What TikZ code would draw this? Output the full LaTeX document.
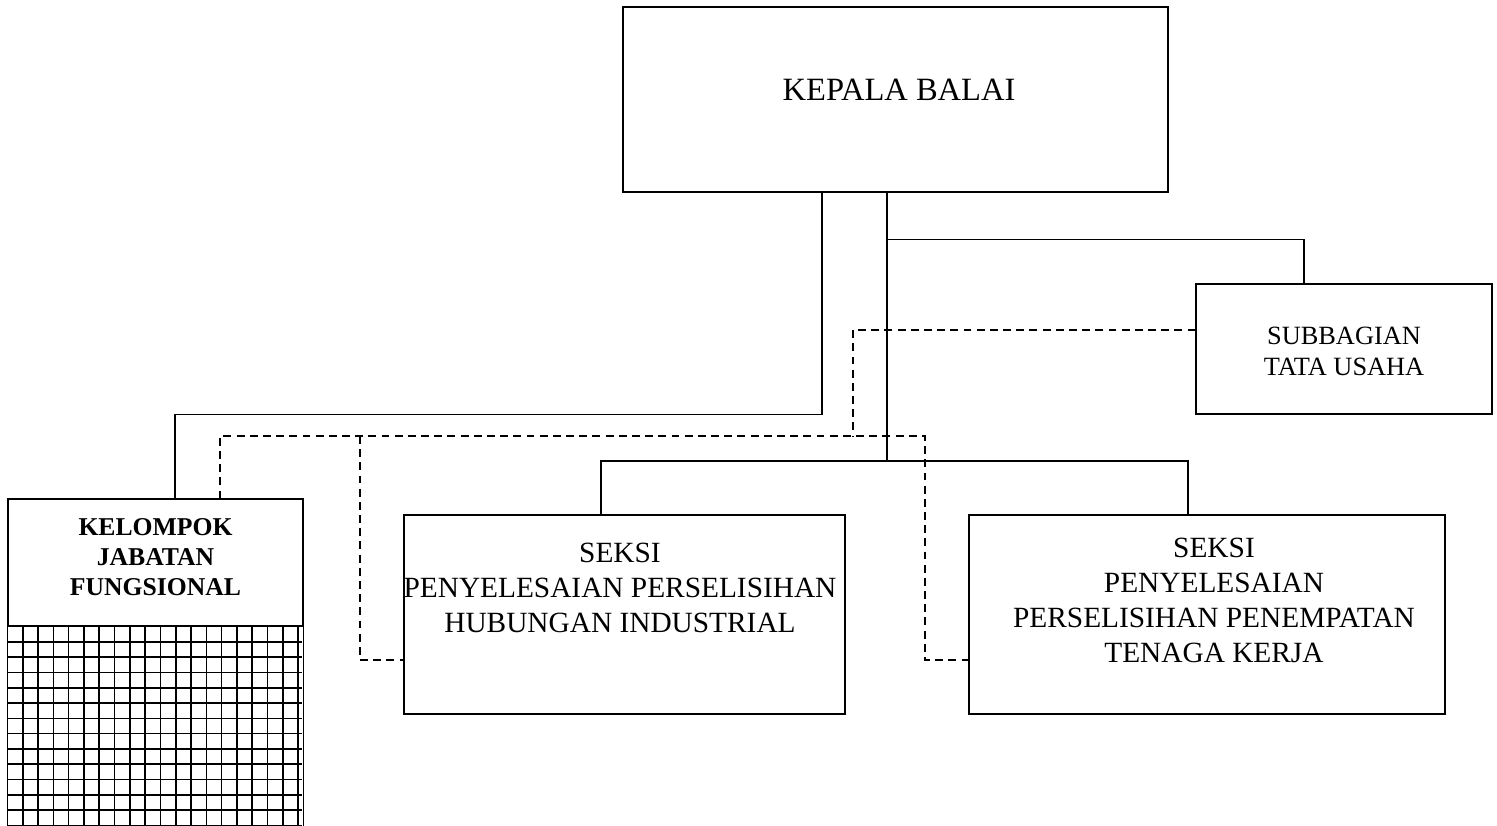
\documentclass[tikz,border=0pt]{standalone}
\usepackage{fontspec}
\setmainfont{Liberation Serif}
\usepackage{tikz}

\begin{document}
\begin{tikzpicture}[-
  ,line width=0.8pt
  ,semithick]
  \tikzstyle{unit}=[draw, rectangle, inner sep=0pt]
  \tikzstyle{caption}=[align=center, inner sep=0pt,
  font=\fontsize{16.7}{20}\selectfont]
  \tikzstyle{link}=[dash pattern=on 4.5pt off 3pt]

  \useasboundingbox (0,0) rectangle (29.94,-16.5);

  % boxes
  \node[unit, minimum width=10.9cm, minimum height=3.7cm] (kepala) at (17.91,-1.99) {};
  \node[unit, minimum width=5.92cm, minimum height=2.6cm] (subbag) at (26.88,-6.98) {};
  \node[unit, minimum width=8.82cm, minimum height=3.98cm] (phi) at (12.49,-12.29) {};
  \node[unit, minimum width=9.52cm, minimum height=3.98cm] (pptk) at (24.14,-12.29) {};
  \node[unit, minimum width=5.9cm, minimum height=2.54cm] (kjf) at (3.11,-11.25) {};

  % texts
  \node[caption, font=\fontsize{18.5}{20}\selectfont] (kepala-t) at ([xshift=0.07cm,yshift=0.19cm]kepala.center) {KEPALA BALAI};
  \node[caption, font=\fontsize{15}{17.6}\selectfont] (subbag-t) at ([yshift=-0.04cm]subbag.center)
  {SUBBAGIAN\\TATA USAHA};
  \node[caption] (phi-t) at ([xshift=-0.09cm,yshift=0.53cm]phi.center)
  {SEKSI\\PENYELESAIAN PERSELISIHAN\\HUBUNGAN INDUSTRIAL};
  \node[caption] (pptk-t) at ([xshift=0.14cm,yshift=0.28cm]pptk.center)
  {SEKSI\\PENYELESAIAN\\PERSELISIHAN PENEMPATAN\\TENAGA KERJA};
  \node[caption, font=\fontsize{14.6}{17}\selectfont\bfseries] (kjf-t) at ([yshift=0.11cm]kjf.center)
  {KELOMPOK\\JABATAN\\FUNGSIONAL};

  % grid under the functional group
  \draw[line width=0.9pt, step=0.306cm, shift={(kjf.south west)}] (0,0) grid (5.9,-3.98);
  \draw[line width=0.9pt] (kjf.south west) -- ++(0,-3.98);
  \draw[line width=0.9pt] (kjf.south east) -- ++(0,-3.98);

  % joints
  \coordinate (bar) at (17.74,-9.22);
  \coordinate (dj) at (17.06,-8.72);
  \coordinate (dl) at (7.2,-8.72);
  \coordinate (dr) at (18.5,-8.72);

  % solid lines
  \draw ([xshift=-1.47cm]kepala.south) -- ++(0,-4.44) -| ([xshift=0.39cm]kjf.north);
  \draw ([xshift=-0.17cm]kepala.south) -- (bar);
  \draw ([xshift=-0.17cm]kepala.south) ++(0,-0.94) -| ([xshift=-0.8cm]subbag.north);
  \draw (bar) -| ([xshift=-0.47cm]phi.north);
  \draw (bar) -| ([xshift=-0.38cm]pptk.north);

  % dashed lines
  \draw[link] ([yshift=0.38cm]subbag.west) -| (dj);
  \draw[link] ([xshift=1.29cm]kjf.north) |- (dr) |- ([yshift=-0.91cm]pptk.west);
  \draw[link] (dl) |- ([yshift=-0.91cm]phi.west);

\end{tikzpicture}
\end{document}
